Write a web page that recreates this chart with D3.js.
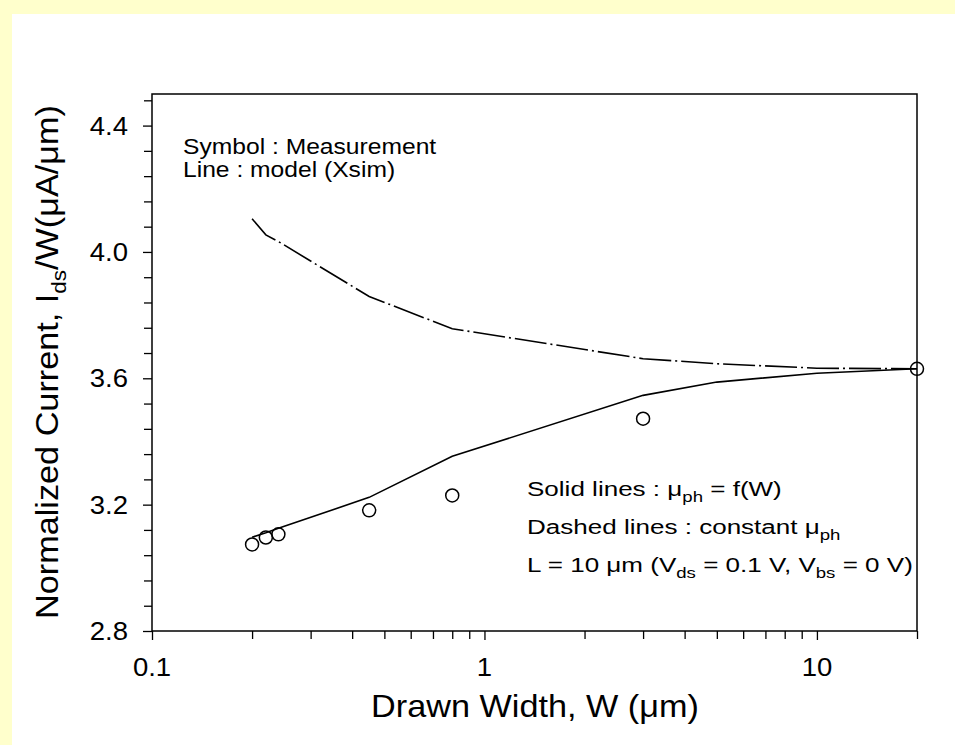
<!DOCTYPE html>
<html>
<head>
<meta charset="utf-8">
<script src="https://cdn.jsdelivr.net/npm/d3@7/dist/d3.min.js"></script>
<style>
  html, body { margin: 0; padding: 0; background: #FFFFCC; }
  svg { display: block; }
  text { font-family: "Liberation Sans", Arial, Helvetica, sans-serif; fill: #000; }
</style>
</head>
<body>
<svg id="chart" width="955" height="745"></svg>
<script>
// ---------- data ----------
const widthsMeasured = [0.2, 0.22, 0.24, 0.45, 0.8, 3, 20];
const currentMeasured = [3.074, 3.096, 3.106, 3.182, 3.229, 3.472, 3.63];

const widthsModel = [0.2, 0.22, 0.24, 0.45, 0.8, 3, 5, 10, 20];
const currentSolid = [3.097, 3.111, 3.125, 3.223, 3.353, 3.546, 3.588, 3.616, 3.63];
const currentDashDot = [4.105, 4.054, 4.033, 3.859, 3.757, 3.662, 3.646, 3.632, 3.63];

const xMajorTicks = [0.1, 1, 10];
const xMajorLabels = ["0.1", "1", "10"];
const yMajorTicks = [2.8, 3.2, 3.6, 4.0, 4.4];
const yMajorLabels = ["2.8", "3.2", "3.6", "4.0", "4.4"];

// ---------- layout ----------
const svg = d3.select("#chart");
const L = 152, R = 917, T = 94, B = 631;

svg.append("rect").attr("x", 0).attr("y", 0).attr("width", 955).attr("height", 745).attr("fill", "#FFFFCC");
svg.append("rect").attr("x", 12).attr("y", 14).attr("width", 943).attr("height", 731).attr("fill", "#FFFFFF");

const x = d3.scaleLog().domain([0.1, 20]).range([L, R]);
const y = d3.scaleLinear().domain([2.8, 4.5]).range([B, T]);

function placeText(sel, px, py, sx, rot) {
  sel.attr("x", 0).attr("y", 0)
     .attr("transform", `translate(${px},${py})` + (rot ? ` rotate(${rot})` : "") + ` scale(${sx},1)`);
  return sel;
}

// ---------- axes ----------
const xMinor = [];
[0.1, 1, 10].forEach(d => { for (let k = 2; k <= 9; k++) { const v = d * k; if (v <= 20.0001) xMinor.push(v); } });

const xAxis = d3.axisBottom(x).tickValues(xMinor).tickSize(8).tickFormat("");
const xAxisMajor = d3.axisBottom(x).tickValues(xMajorTicks).tickSize(9).tickFormat("");
const gx = svg.append("g").attr("transform", `translate(0,${B})`).call(xAxis);
const gx2 = svg.append("g").attr("transform", `translate(0,${B})`).call(xAxisMajor);
[gx, gx2].forEach(g => {
  g.select(".domain").remove();
  g.selectAll("line").attr("stroke", "#000").attr("stroke-width", 1.3);
});

const yMinor = d3.range(0, 22).map(i => +(2.8 + 0.08 * i).toFixed(2)).filter(v => yMajorTicks.indexOf(v) < 0);
const yAxisMinor = d3.axisLeft(y).tickValues(yMinor).tickSize(8).tickFormat("");
const yAxisMajor = d3.axisLeft(y).tickValues(yMajorTicks).tickSize(9).tickFormat("");
const gy = svg.append("g").attr("transform", `translate(${L},0)`).call(yAxisMinor);
const gy2 = svg.append("g").attr("transform", `translate(${L},0)`).call(yAxisMajor);
[gy, gy2].forEach(g => {
  g.select(".domain").remove();
  g.selectAll("line").attr("stroke", "#000").attr("stroke-width", 1.3);
});

// frame
svg.append("rect").attr("x", L).attr("y", T).attr("width", R - L).attr("height", B - T)
  .attr("fill", "none").attr("stroke", "#000").attr("stroke-width", 1.5);

// tick labels
xMajorTicks.forEach((v, i) => {
  placeText(svg.append("text").attr("text-anchor", "middle").attr("font-size", 25).text(xMajorLabels[i]),
    x(v), B + 45, 1.1);
});
yMajorTicks.forEach((v, i) => {
  placeText(svg.append("text").attr("text-anchor", "end").attr("font-size", 25).text(yMajorLabels[i]),
    128, y(v) + 9, 1.1);
});

// axis titles
const xt = svg.append("text").attr("text-anchor", "middle").attr("font-size", 32);
xt.append("tspan").text("Drawn Width, W (\u03bcm)");
placeText(xt, 535, 717, 1.07);

const yt = svg.append("text").attr("text-anchor", "middle").attr("font-size", 32);
yt.append("tspan").text("Normalized Current, I");
yt.append("tspan").attr("font-size", 21).attr("dy", 8).text("ds");
yt.append("tspan").attr("dy", -8).text("/W(\u03bcA/\u03bcm)");
placeText(yt, 58, 362, 1.07, -90);

// ---------- marks ----------
const modelSolid = widthsModel.map((w, i) => [w, currentSolid[i]]);
const modelDash = widthsModel.map((w, i) => [w, currentDashDot[i]]);
const line = d3.line().x(d => x(d[0])).y(d => y(d[1]));

svg.append("path").datum(modelSolid).attr("d", line)
  .attr("fill", "none").attr("stroke", "#000").attr("stroke-width", 1.6);
svg.append("path").datum(modelDash).attr("d", line)
  .attr("fill", "none").attr("stroke", "#000").attr("stroke-width", 1.6)
  .attr("stroke-dasharray", "32,4,2,4");

svg.selectAll("circle.meas").data(widthsMeasured.map((w, i) => [w, currentMeasured[i]]))
  .enter().append("circle").attr("class", "meas")
  .attr("cx", d => x(d[0])).attr("cy", d => y(d[1])).attr("r", 6.5)
  .attr("fill", "none").attr("stroke", "#000").attr("stroke-width", 1.5);

// ---------- annotations ----------
placeText(svg.append("text").attr("font-size", 22).text("Symbol : Measurement"), 183, 154, 1.12);
placeText(svg.append("text").attr("font-size", 22).text("Line : model (Xsim)"), 183, 177, 1.12);

const SA = 1.24;
const a1 = svg.append("text").attr("font-size", 21);
a1.append("tspan").text("Solid lines : \u03bc");
a1.append("tspan").attr("font-size", 15).attr("dy", 6).text("ph");
a1.append("tspan").attr("dy", -6).text(" = f(W)");
placeText(a1, 527, 496, SA);

const a2 = svg.append("text").attr("font-size", 21);
a2.append("tspan").text("Dashed lines : constant \u03bc");
a2.append("tspan").attr("font-size", 15).attr("dy", 6).text("ph");
placeText(a2, 527, 534, SA);

const a3 = svg.append("text").attr("font-size", 21);
a3.append("tspan").text("L = 10 \u03bcm (V");
a3.append("tspan").attr("font-size", 15).attr("dy", 6).text("ds");
a3.append("tspan").attr("dy", -6).text(" = 0.1 V, V");
a3.append("tspan").attr("font-size", 15).attr("dy", 6).text("bs");
a3.append("tspan").attr("dy", -6).text(" = 0 V)");
placeText(a3, 527, 572, SA);
</script>
</body>
</html>
